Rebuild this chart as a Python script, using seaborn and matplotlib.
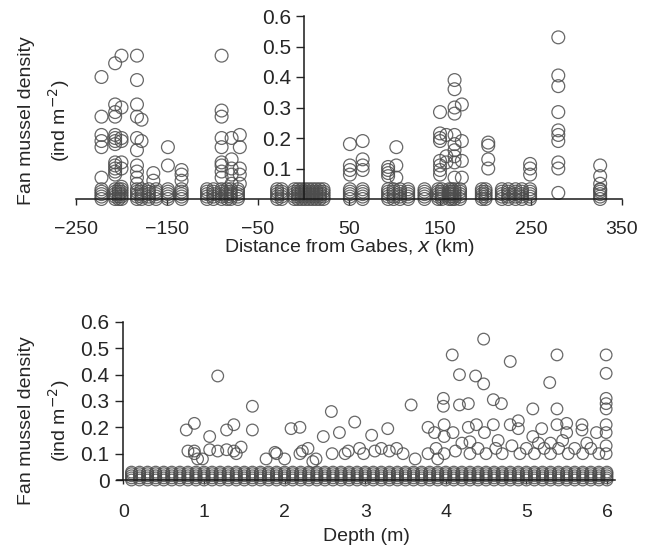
import numpy as np
import pandas as pd
import matplotlib
matplotlib.use("Agg")
import matplotlib.pyplot as plt
import seaborn as sns

# ---- top panel: distance from Gabes (km) ----
# scattered (non-zero) observations
dist_km = [-222, -222, -222, -222, -222, -222,
           -207, -207, -207, -207, -207, -207, -207, -207, -207, -207, -207, -207, -207,
           -200, -200, -200, -200, -200, -200, -200,
           -183, -183, -183, -183, -183, -183, -183, -183, -183, -183,
           -178, -178, -165, -165, -149, -149, -134, -134, -134,
           -90, -90, -90, -90, -90, -90, -90, -90, -90,
           -79, -79, -79, -79, -79,
           -70, -70, -70, -70, -70,
           51, 51, 51, 51, 65, 65, 65, 65,
           93, 93, 93, 93, 102, 102, 102,
           150, 150, 150, 150, 150, 150, 150, 150,
           157, 157, 157,
           166, 166, 166, 166, 166, 166, 166, 166, 166, 166,
           174, 174, 174, 174,
           203, 203, 203, 203, 249, 249, 249,
           280, 280, 280, 280, 280, 280, 280, 280, 280, 280,
           326, 326, 326, 326]
dist_density = [0.40, 0.27, 0.21, 0.19, 0.17, 0.07,
                0.445, 0.31, 0.285, 0.27, 0.21, 0.20, 0.19, 0.18, 0.12, 0.11, 0.10, 0.09, 0.08,
                0.47, 0.30, 0.20, 0.19, 0.12, 0.10, 0.04,
                0.47, 0.39, 0.31, 0.27, 0.20, 0.16, 0.11, 0.09, 0.07, 0.05,
                0.26, 0.19, 0.085, 0.06, 0.17, 0.11, 0.095, 0.08, 0.06,
                0.47, 0.29, 0.27, 0.20, 0.17, 0.12, 0.11, 0.09, 0.07,
                0.20, 0.13, 0.10, 0.08, 0.05,
                0.21, 0.17, 0.10, 0.08, 0.05,
                0.18, 0.11, 0.095, 0.08, 0.19, 0.13, 0.11, 0.095,
                0.105, 0.095, 0.085, 0.075, 0.17, 0.11, 0.07,
                0.285, 0.215, 0.20, 0.19, 0.125, 0.11, 0.095, 0.08,
                0.21, 0.14, 0.12,
                0.39, 0.36, 0.30, 0.28, 0.21, 0.18, 0.16, 0.14, 0.12, 0.07,
                0.31, 0.19, 0.125, 0.07,
                0.185, 0.175, 0.13, 0.10, 0.115, 0.10, 0.08,
                0.53, 0.405, 0.37, 0.285, 0.225, 0.21, 0.19, 0.12, 0.10, 0.02,
                0.11, 0.075, 0.05, 0.03]
# sites with near-zero densities (stacked at the axis)
band_km = [-222, -207, -203, -200, -183, -178, -170, -162, -149, -134, -106, -99, -90,
           -84, -80, -72, -29, -24, -10, -6, -2, 2, 6, 10, 14, 18, 22, 51, 65, 93, 99,
           106, 115, 133, 148, 152, 160, 163, 166, 172, 196, 200, 218, 225, 233, 240,
           249, 326]
band_km_levels = [0.0, 0.008, 0.016, 0.024, 0.032]

# ---- bottom panel: depth (m) ----
depth_m = [0.78, 0.80, 0.88, 0.88, 0.88, 0.92, 0.98, 1.07, 1.07, 1.17, 1.17, 1.28, 1.28,
           1.37, 1.37, 1.40, 1.46, 1.60, 1.60, 1.77, 1.88, 1.90, 2.00, 2.08, 2.19, 2.19,
           2.22, 2.29, 2.35, 2.39, 2.48, 2.58, 2.59, 2.68, 2.75, 2.79, 2.87, 2.93, 2.98,
           3.08, 3.12, 3.20, 3.28, 3.30, 3.39, 3.47, 3.57, 3.62, 3.78, 3.78, 3.86, 3.88,
           3.90, 3.97, 3.97, 3.98, 3.98, 3.98, 4.08, 4.09, 4.12, 4.17, 4.17, 4.20, 4.28,
           4.28, 4.30, 4.30, 4.37, 4.38, 4.40, 4.47, 4.47, 4.48, 4.50, 4.59, 4.59, 4.62,
           4.65, 4.69, 4.70, 4.80, 4.80, 4.82, 4.90, 4.90, 4.92, 5.00, 5.08, 5.08, 5.10,
           5.15, 5.19, 5.22, 5.29, 5.30, 5.30, 5.38, 5.38, 5.38, 5.40, 5.45, 5.50, 5.50,
           5.52, 5.60, 5.69, 5.69, 5.70, 5.75, 5.80, 5.87, 5.90,
           5.99, 5.99, 5.99, 5.99, 5.99, 5.99, 5.99, 5.99, 5.99]
depth_density = [0.19, 0.11, 0.215, 0.11, 0.10, 0.08, 0.08, 0.165, 0.115, 0.395, 0.11, 0.19, 0.115,
                 0.21, 0.11, 0.10, 0.125, 0.28, 0.19, 0.08, 0.105, 0.10, 0.08, 0.195, 0.20, 0.10,
                 0.11, 0.12, 0.07, 0.08, 0.165, 0.26, 0.10, 0.18, 0.10, 0.11, 0.22, 0.12, 0.10,
                 0.17, 0.11, 0.12, 0.195, 0.11, 0.12, 0.10, 0.285, 0.08, 0.20, 0.10, 0.18, 0.12,
                 0.08, 0.31, 0.28, 0.21, 0.165, 0.10, 0.475, 0.18, 0.11, 0.40, 0.285, 0.14, 0.29,
                 0.20, 0.145, 0.10, 0.395, 0.21, 0.12, 0.535, 0.365, 0.18, 0.10, 0.305, 0.21, 0.12,
                 0.15, 0.29, 0.10, 0.45, 0.21, 0.13, 0.225, 0.195, 0.10, 0.12, 0.27, 0.165, 0.10,
                 0.14, 0.195, 0.12, 0.37, 0.10, 0.14, 0.475, 0.27, 0.21, 0.12, 0.15, 0.215, 0.18,
                 0.10, 0.12, 0.21, 0.19, 0.10, 0.14, 0.12, 0.18, 0.10,
                 0.475, 0.405, 0.31, 0.29, 0.27, 0.21, 0.18, 0.13, 0.10]
band_depth = [0.1, 0.2, 0.3, 0.4, 0.5, 0.6, 0.7, 0.8, 0.9, 1.0,
              1.1, 1.2, 1.3, 1.4, 1.5, 1.6, 1.7, 1.8, 1.9, 2.0,
              2.1, 2.2, 2.3, 2.4, 2.5, 2.6, 2.7, 2.8, 2.9, 3.0,
              3.1, 3.2, 3.3, 3.4, 3.5, 3.6, 3.7, 3.8, 3.9, 4.0,
              4.1, 4.2, 4.3, 4.4, 4.5, 4.6, 4.7, 4.8, 4.9, 5.0,
              5.1, 5.2, 5.3, 5.4, 5.5, 5.6, 5.7, 5.8, 5.9, 6.0]
band_depth_levels = [0.0, 0.008, 0.016, 0.024, 0.03]

top_xticks = [-250, -150, -50, 50, 150, 250, 350]
top_yticks = [0.1, 0.2, 0.3, 0.4, 0.5, 0.6]
bot_xticks = [0, 1, 2, 3, 4, 5, 6]
bot_yticks = [0, 0.1, 0.2, 0.3, 0.4, 0.5, 0.6]


def build(xs, ys, band_x, levels):
    bx = [x for x in band_x for _ in levels]
    by = [lv for _ in band_x for lv in levels]
    return pd.DataFrame({"x": list(xs) + bx, "y": list(ys) + by})


sns.set_style("white")
plt.rcParams["font.family"] = ["Liberation Sans", "DejaVu Sans"]
plt.rcParams["axes.unicode_minus"] = True

fig = plt.figure(figsize=(6.55, 5.49), dpi=100)
W, H = 655, 549

def px_axes(left, right, top, bottom):
    return fig.add_axes([left / W, 1 - bottom / H, (right - left) / W, (bottom - top) / H])

marker_kw = dict(facecolors="none", edgecolor="0.3", linewidth=0.9, alpha=0.85, legend=False)

# top panel
ax1 = px_axes(76, 622, 16, 199)
df_top = build(dist_km, dist_density, band_km, band_km_levels)
sns.scatterplot(data=df_top, x="x", y="y", s=85, ax=ax1, **marker_kw)
ax1.set_xlim(-250, 350)
ax1.set_ylim(0, 0.6)
ax1.spines["left"].set_position(("data", 0))
ax1.spines["bottom"].set_position(("data", 0))
ax1.spines["top"].set_visible(False)
ax1.spines["right"].set_visible(False)
ax1.set_xticks(top_xticks)
ax1.set_xticklabels([f"\u2212{abs(v)}" if v < 0 else str(v) for v in top_xticks])
ax1.set_yticks(top_yticks)
ax1.set_yticklabels([f"{v:.1f}" for v in top_yticks])
ax1.tick_params(axis="x", bottom=True, direction="out", length=4, width=1, pad=12, labelsize=14)
ax1.tick_params(axis="y", left=True, direction="out", length=6, width=1, pad=3, labelsize=15)
ax1.set_xlabel("Distance from Gabes, $\\it{x}$ (km)", fontsize=14, labelpad=-1)
ax1.set_ylabel("")

# bottom panel
ax2 = px_axes(117, 615, 322, 480)
df_bot = build(depth_m, depth_density, band_depth, band_depth_levels)
sns.scatterplot(data=df_bot, x="x", y="y", s=70, ax=ax2, **marker_kw)
ax2.set_xlim(-0.08, 6.1)
ax2.set_ylim(0, 0.6)
ax2.spines["left"].set_position(("data", 0))
ax2.spines["top"].set_visible(False)
ax2.spines["right"].set_visible(False)
ax2.set_xticks(bot_xticks)
ax2.set_yticks(bot_yticks)
ax2.set_yticklabels(["0"] + [f"{v:.1f}" for v in bot_yticks[1:]])
ax2.tick_params(axis="x", bottom=True, direction="out", length=3, width=1, pad=14, labelsize=14)
ax2.tick_params(axis="y", left=True, direction="out", length=6, width=1, pad=4, labelsize=15)
ax2.set_xlabel("Depth (m)", fontsize=14, labelpad=5)
ax2.set_ylabel("")

for ax in (ax1, ax2):
    for coll in ax.collections:
        coll.set_clip_on(False)
    for sp in ax.spines.values():
        sp.set_linewidth(1.1)
        sp.set_color("0.1")

ylab = "Fan mussel density\n(ind m$^{-2}$)"
fig.text(45 / W, 1 - 121 / H, ylab, rotation=90, ha="center", va="center",
         multialignment="center", fontsize=14, linespacing=1.6)
fig.text(45 / W, 1 - 421 / H, ylab, rotation=90, ha="center", va="center",
         multialignment="center", fontsize=14, linespacing=1.6)

fig.savefig("out.png", dpi=100)
